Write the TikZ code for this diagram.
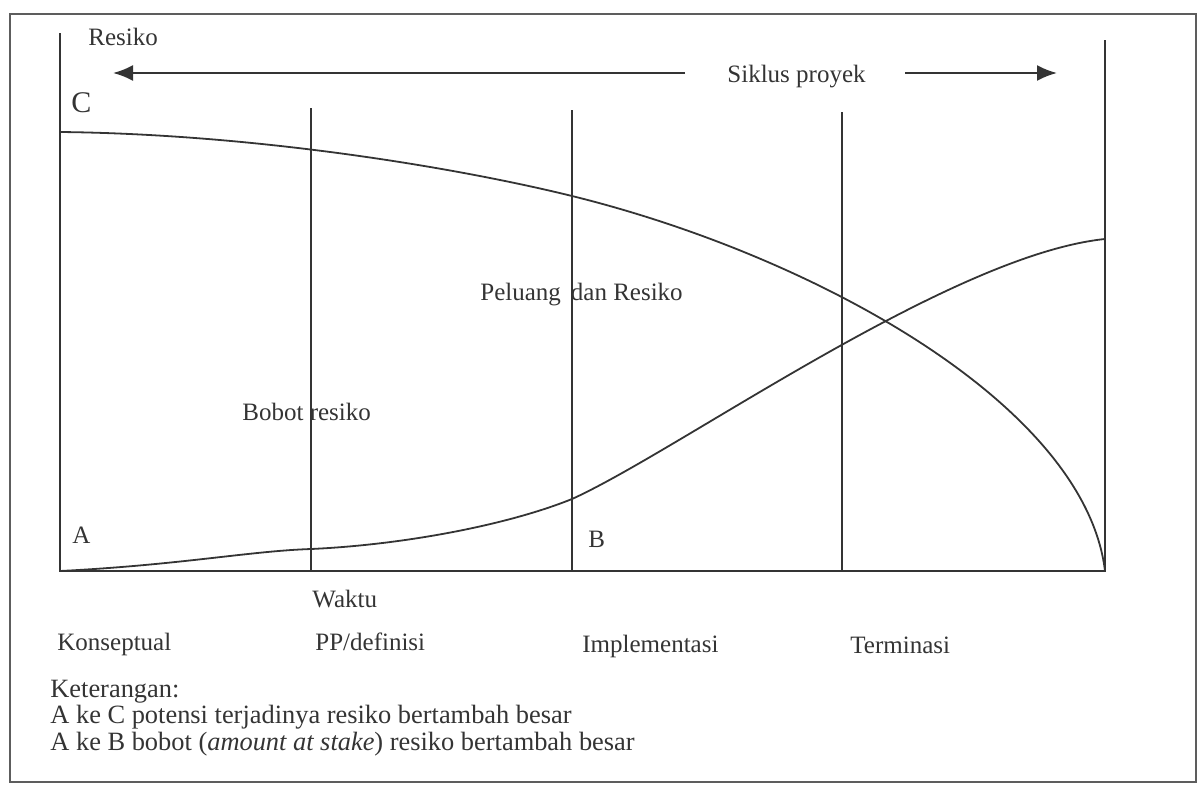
\documentclass[tikz,border=0pt]{standalone}
\usepackage{fontspec}
\setmainfont{Liberation Serif}
\usetikzlibrary{positioning,arrows.meta,calc}
\definecolor{tinta}{RGB}{52,52,52}

\begin{document}
\begin{tikzpicture}[x=0.5pt,y=-0.5pt,
  font=\fontsize{12.5}{14}\selectfont, text=tinta,
  garis/.style={draw=tinta, line width=1pt},
  kurva/.style={draw=tinta, line width=0.9pt},
  panah/.style={draw=tinta, line width=1.1pt, -{Latex[length=10pt,width=8pt]}},
  teks/.style={anchor=base west, inner sep=0pt},
  ket/.style={teks, font=\fontsize{13.2}{14}\selectfont}]
  \useasboundingbox (0,0) rectangle (1198,787);
  \draw[draw=tinta!80, line width=0.8pt] (10,14) rectangle (1196,782);

  % sumbu dan batas fase
  \coordinate (A) at (60,571);
  \coordinate (R) at (1105,571);
  \draw[garis] (60,33) -- (A) -- (R) -- (1105,40);
  \foreach \x/\t in {311/108, 572/110, 842/112}
    \draw[garis] (\x,\t) -- (\x,571);

  % kurva A ke C dan A ke B
  \draw[kurva] (60,132) .. controls (250,134) and (450,166) .. (572,196)
    .. controls (815,256) and (1085,405) .. (R);
  \draw[kurva] (A) .. controls (180,565) and (250,551) .. (311,549)
    .. controls (400,545) and (505,526) .. (572,499)
    .. controls (680,450) and (950,255) .. (1105,239);

  % siklus proyek
  \node[teks] (siklus) at (727,82) {Siklus proyek};
  \coordinate (kiri) at (113,73);
  \coordinate (kanan) at (1057,73);
  \draw[panah] ($(siklus.west |- kiri)+(-42,0)$) -- (kiri);
  \draw[panah] ($(siklus.east |- kanan)+(39,0)$) -- (kanan);

  \node[teks] (resiko) at (88,45) {Resiko};
  \node[teks, font=\fontsize{15}{16}\selectfont] (c) at (71,112) {C};
  \node[teks] (a) at (72,543) {A};
  \node[teks] (b) at (588,547) {B};
  \node[teks] (bobot) at (242,420) {Bobot resiko};
  \node[teks] (peluang) at (480,300) {Peluang\hspace{0.4em}dan Resiko};
  \node[teks] (waktu) at (312,607) {Waktu};

  \node[teks] (f1) at (57,650) {Konseptual};
  \node[teks] (f2) at (315,650) {PP/definisi};
  \node[teks] (f3) at (582,652) {Implementasi};
  \node[teks] (f4) at (850,653) {Terminasi};

  \node[ket] (ket0) at (50,697) {Keterangan:};
  \node[ket] (ket1) at (50,723) {A ke C potensi terjadinya resiko bertambah besar};
  \node[ket] (ket2) at (50,750) {A ke B bobot (\textit{amount at stake}) resiko bertambah besar};
\end{tikzpicture}
\end{document}
